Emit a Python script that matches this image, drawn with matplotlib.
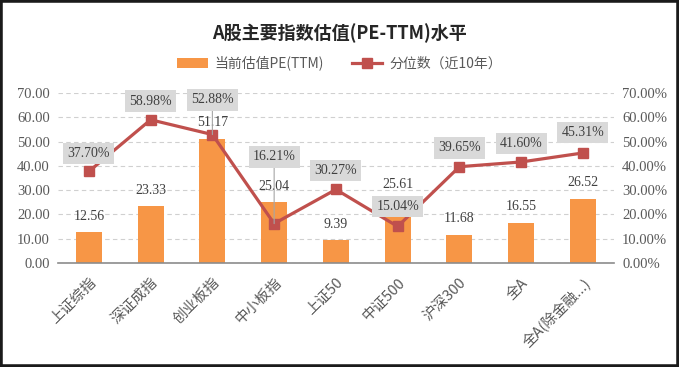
import matplotlib.pyplot as plt
from matplotlib.patches import Rectangle, Patch
from matplotlib.lines import Line2D
import numpy as np

# data
categories = ['上证综指', '深证成指', '创业板指', '中小板指', '上证50',
              '中证500', '沪深300', '全A', '全A(除金融...)']
pe_ttm = [12.56, 23.33, 51.17, 25.04, 9.39, 25.61, 11.68, 16.55, 26.52]
percentile = [37.70, 58.98, 52.88, 16.21, 30.27, 15.04, 39.65, 41.60, 45.31]

# label placement (points above the marker); long ones get a leader line
pct_offsets = [13, 13.5, 25, 48, 13.5, 14.5, 13.5, 13.5, 14.5]
leader = [False, False, True, True, False, False, False, False, False]

BAR = '#F79646'
LINE = '#C0504D'
TXT = '#595959'
NUM_FONT = ['Liberation Serif', 'Noto Sans CJK SC']
CJK_FONT = ['Noto Sans CJK SC', 'DejaVu Sans']

plt.rcParams['font.family'] = CJK_FONT

fig = plt.figure(figsize=(6.79, 3.67), dpi=100)
ax = fig.add_axes([0.0854, 0.2834, 0.8186, 0.4632])
ax2 = ax.twinx()

x = np.arange(len(categories))
ax.bar(x, pe_ttm, width=0.42, color=BAR, zorder=2)
ax.set_xlim(-0.5, len(categories) - 0.5)
ax.set_ylim(0, 70)
ax.set_yticks(np.arange(0, 71, 10))
ax.set_yticklabels([f'{v:.2f}' for v in np.arange(0, 71, 10)],
                   family=NUM_FONT, fontsize=10.5, color=TXT)
ax.yaxis.grid(True, linestyle=(0, (4, 3)), color='#D0D0D0', linewidth=0.8)
ax.set_axisbelow(True)

for xi, v in zip(x, pe_ttm):
    ax.annotate(f'{v:.2f}', (xi, v), xytext=(0, 11.5), textcoords='offset points',
                ha='center', va='center', family=NUM_FONT, fontsize=10,
                color='#404040')

ax2.plot(x, percentile, color=LINE, linewidth=2.3, marker='s', markersize=7,
         zorder=3)
ax2.set_ylim(0, 70)
ax2.set_yticks(np.arange(0, 71, 10))
ax2.set_yticklabels([f'{v:.2f}%' for v in np.arange(0, 71, 10)],
                    family=NUM_FONT, fontsize=10.5, color=TXT)

for xi, v, off, ld in zip(x, percentile, pct_offsets, leader):
    props = dict(arrowstyle='-', color='#A6A6A6', lw=0.8, shrinkA=0, shrinkB=0) if ld else None
    ax2.annotate(f'{v:.2f}%', (xi, v), xytext=(0, off), textcoords='offset points',
                 ha='center', va='center', family=NUM_FONT, fontsize=10,
                 color='#404040', arrowprops=props,
                 bbox=dict(boxstyle='square,pad=0.3', fc='#D9D9D9', ec='none'),
                 zorder=5)

ax.set_xticks(x)
ax.set_xticklabels(categories, rotation=45, ha='right', va='top',
                   rotation_mode='anchor', fontsize=10.5, color=TXT)

for a in (ax, ax2):
    for side in ('left', 'right', 'top'):
        a.spines[side].set_visible(False)
    a.tick_params(length=0)
ax2.spines['bottom'].set_visible(False)
ax.spines['bottom'].set_color('#8C8C8C')
ax.spines['bottom'].set_linewidth(1.2)
ax.tick_params(axis='x', pad=9)
ax.tick_params(axis='y', pad=6)
ax2.tick_params(axis='y', pad=6)

fig.text(0.5, 0.91, 'A股主要指数估值(PE-TTM)水平', ha='center', va='center',
         fontsize=13, fontweight='bold', color='#262626')

handles = [Patch(facecolor=BAR, edgecolor='none'),
           Line2D([0], [0], color=LINE, linewidth=2.3, marker='s', markersize=7)]
fig.legend(handles, ['当前估值PE(TTM)', '分位数（近10年）'], loc='center',
           bbox_to_anchor=(0.5, 0.828), ncol=2, frameon=False, fontsize=10,
           labelcolor=TXT, handlelength=2.2, columnspacing=2.0, handletextpad=0.5)

fig.patches.append(Rectangle((0, 0), 1, 1, transform=fig.transFigure, fill=False,
                             edgecolor='#1A1A1A', linewidth=4))

fig.savefig('out.png', dpi=100)
